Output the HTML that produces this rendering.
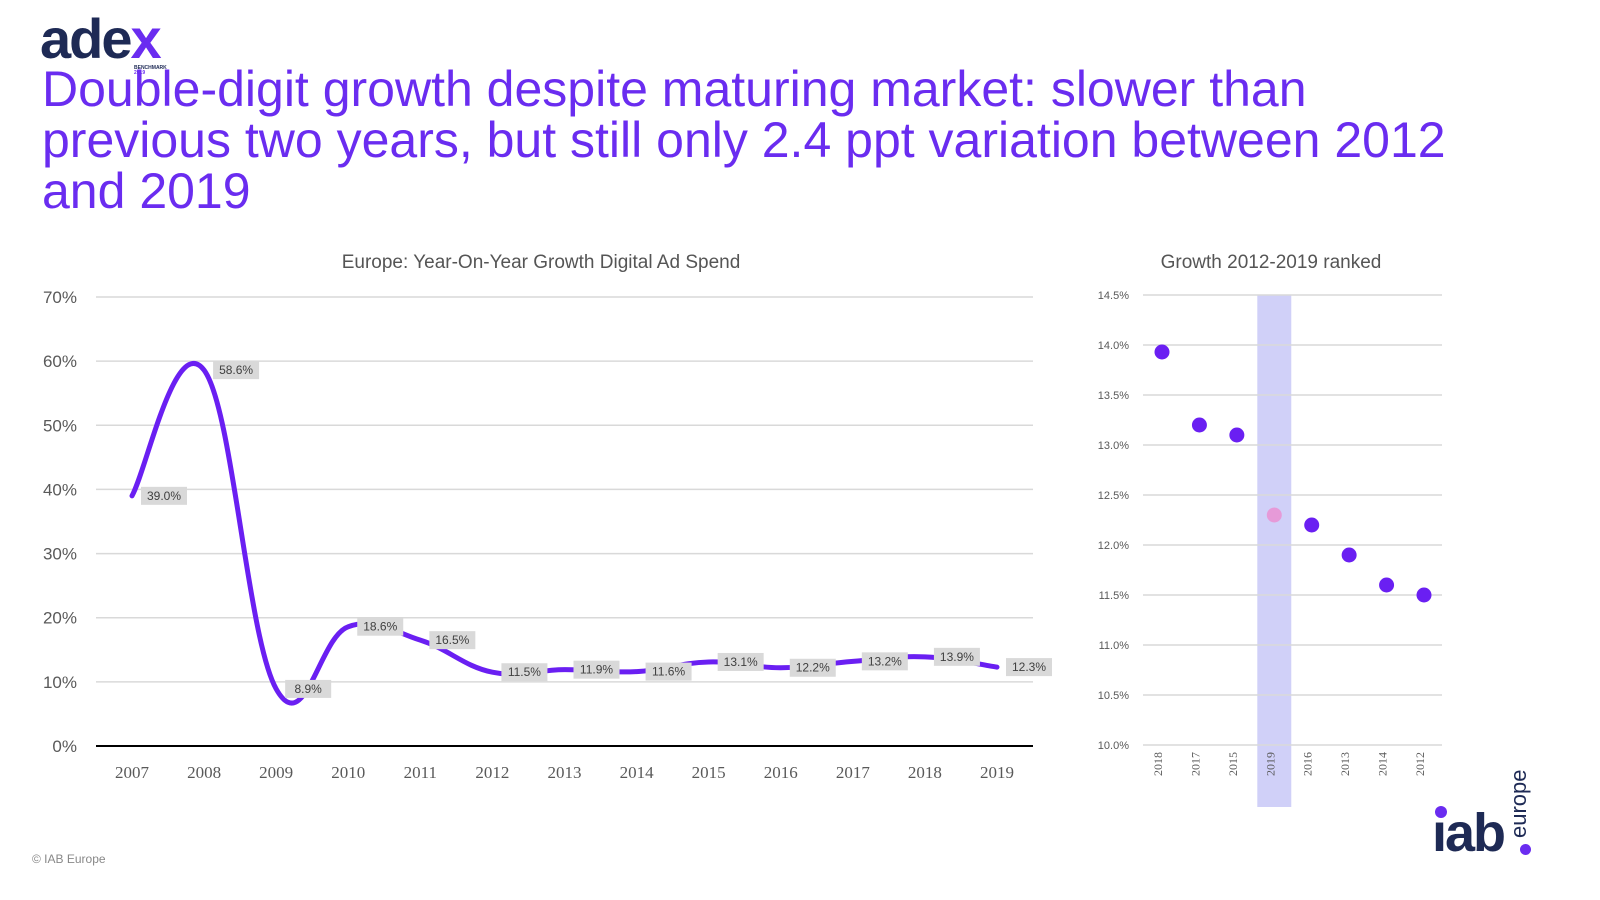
<!DOCTYPE html>
<html><head><meta charset="utf-8">
<style>
body{margin:0;width:1600px;height:900px;background:#fff;overflow:hidden;position:relative;font-family:"Liberation Sans",sans-serif}
#title{position:absolute;left:42px;top:64px;font-size:50px;line-height:51px;color:#6a2cf0;margin:0;font-weight:normal;width:1540px;white-space:nowrap}
</style></head><body>
<div style="position:absolute;left:40px;top:6px;">
 <span style="font-size:56px;font-weight:bold;color:#1e2a55;letter-spacing:-2px;font-family:'Liberation Sans',sans-serif">ade<span style="color:#6a2cf0">x</span></span>
 <div style="position:absolute;left:94px;top:60px;font-size:5px;font-weight:bold;color:#1e2a55;line-height:5px">BENCHMARK<br><span style="color:#6a2cf0">2019</span></div>
</div>
<h1 id="title">Double-digit growth despite maturing market: slower than<br>previous two years, but still only 2.4 ppt variation between 2012<br>and 2019</h1>
<svg id="chart" width="1600" height="900" style="position:absolute;left:0;top:0"></svg>
<div style="position:absolute;left:32px;top:852px;font-size:12px;color:#888">© IAB Europe</div>
<div style="position:absolute;left:1432px;top:766px;width:110px;height:94px">
 <div style="position:absolute;left:3px;top:40px;width:12px;height:12px;border-radius:50%;background:#6a2cf0"></div>
 <div style="position:absolute;left:0px;top:40px;font-size:54px;font-weight:bold;color:#1e2a55;letter-spacing:-2px;line-height:54px">ıab</div>
 <div style="position:absolute;left:88px;top:78px;width:11px;height:11px;border-radius:50%;background:#6a2cf0"></div>
 <div style="position:absolute;left:76px;top:72px;transform:rotate(-90deg);transform-origin:left top;font-size:22px;color:#1e2a55;line-height:22px">europe</div>
</div>
<script>
const years=["2007","2008","2009","2010","2011","2012","2013","2014","2015","2016","2017","2018","2019"];
const growth=[39.0,58.6,8.9,18.6,16.5,11.5,11.9,11.6,13.1,12.2,13.2,13.9,12.3];
const yTicks=[0,10,20,30,40,50,60,70];
const rankCats=["2018","2017","2015","2019","2016","2013","2014","2012"];
const rankVals=[13.93,13.2,13.1,12.3,12.2,11.9,11.6,11.5];
const rankTicks=[10.0,10.5,11.0,11.5,12.0,12.5,13.0,13.5,14.0,14.5];
const highlight="2019";

const svg=document.getElementById('chart');const NS='http://www.w3.org/2000/svg';
function mk(t,a,p){const e=document.createElementNS(NS,t);for(const k in a)e.setAttribute(k,a[k]);(p||svg).appendChild(e);return e;}
function txt(s,a){const e=mk('text',a);e.textContent=s;return e;}
// left chart
const X=i=>132+i*(997-132)/(years.length-1);
const Y=v=>746-v*(746-297)/70;
txt('Europe: Year-On-Year Growth Digital Ad Spend',{x:541,y:268,'text-anchor':'middle','font-size':19,fill:'#555'});
yTicks.forEach(t=>{
 const l=mk('line',{x1:96,x2:1033,y1:Y(t),y2:Y(t),stroke:t===0?'#000':'#d9d9d9','stroke-width':t===0?2:1.5});
 
 
 const e=txt(t+'%',{x:77,y:Y(t)+6,'text-anchor':'end','font-size':17,fill:'#595959','font-family':'Liberation Sans'});
 
 
});
years.forEach((y,i)=>{const e=txt(y,{x:X(i),y:778,'text-anchor':'middle','font-size':17,fill:'#595959','font-family':'Liberation Serif'});
 
 });
const pts=growth.map((v,i)=>[X(i),Y(v)]);
let d='M'+pts[0][0]+','+pts[0][1];
for(let i=0;i<pts.length-1;i++){const p0=pts[i-1]||pts[i],p1=pts[i],p2=pts[i+1],p3=pts[i+2]||p2;const k=0.2;
 d+=` C${p1[0]+(p2[0]-p0[0])*k},${p1[1]+(p2[1]-p0[1])*k} ${p2[0]-(p3[0]-p1[0])*k},${p2[1]-(p3[1]-p1[1])*k} ${p2[0]},${p2[1]}`;}
const line=mk('path',{d:d,fill:'none',stroke:'#6a1ff2','stroke-width':5,'stroke-linecap':'round'});


growth.forEach((v,i)=>{const cx=X(i)+32,cy=Y(v);
 const r=mk('rect',{x:cx-23,y:cy-9,width:46,height:18,fill:'#d9d9d9'});
 
 
 const t=txt(v.toFixed(1)+'%',{x:cx,y:cy+4,'text-anchor':'middle','font-size':12,fill:'#404040'});
 
 });
// right chart
const RX=i=>1162+i*(1424-1162)/(rankCats.length-1);
const RY=v=>745-(v-10)*100;
txt('Growth 2012-2019 ranked',{x:1271,y:268,'text-anchor':'middle','font-size':19,fill:'#555'});
const hi=rankCats.indexOf(highlight);
const band=mk('rect',{x:RX(hi)-17,y:295,width:34,height:512,fill:'#d0d0f8'});


rankTicks.forEach(t=>{
 const l=mk('line',{x1:1143,x2:1442,y1:RY(t),y2:RY(t),stroke:'#d9d9d9','stroke-width':1.5});
 
 
 const e=txt(t.toFixed(1)+'%',{x:1129,y:RY(t)+4,'text-anchor':'end','font-size':11,fill:'#595959'});
 
 
});
rankCats.forEach((c,i)=>{
 const e=txt(c,{x:RX(i)+4,y:768,'text-anchor':'middle','font-size':12,fill:'#595959','font-family':'Liberation Serif',transform:`rotate(-90 ${RX(i)} 768)`});
 
 
 const dot=mk('circle',{cx:RX(i),cy:RY(rankVals[i]),r:7.5,fill:c===highlight?'#e69ad8':'#6a1ff2'});
 
 
});
</script>
</body></html>
